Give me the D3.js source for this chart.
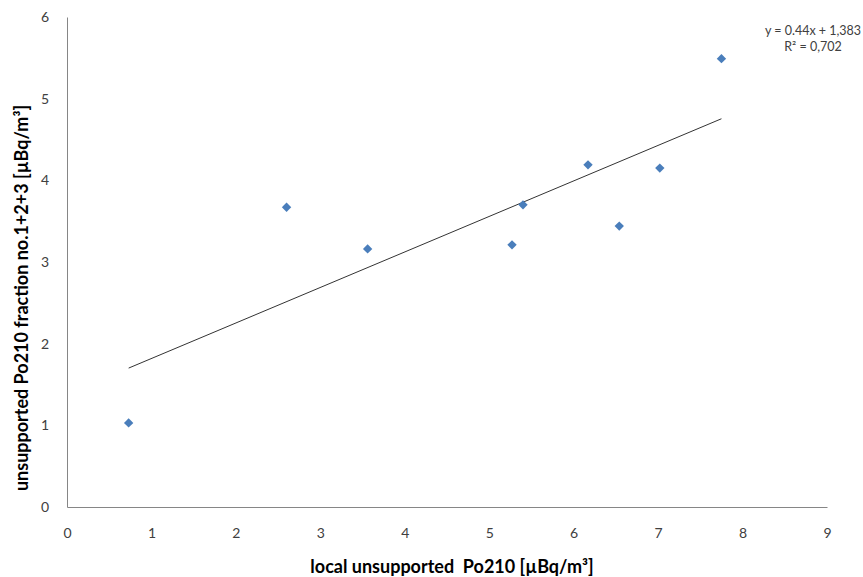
<!DOCTYPE html>
<html>
<head>
<meta charset="utf-8">
<script src="https://cdn.jsdelivr.net/npm/d3@7"></script>
<style>
  body { margin: 0; background: #fff; }
  svg text { font-family: Lato, "Open Sans", sans-serif; fill: #404040; }
</style>
</head>
<body>
<div id="chart"></div>
<script>
// values
var xValues = [0.73, 2.6, 3.56, 5.27, 5.4, 6.17, 6.54, 7.02, 7.75];
var yValues = [1.03, 3.67, 3.16, 3.21, 3.7, 4.19, 3.44, 4.15, 5.49];
var xTicks = [0, 1, 2, 3, 4, 5, 6, 7, 8, 9];
var yTicks = [0, 1, 2, 3, 4, 5, 6];
var equationLines = ['y = 0.44x + 1,383', 'R² = 0,702'];

var width = 863, height = 577;
var margin = { top: 17, right: 36, bottom: 70, left: 67 };

var svg = d3.select('#chart').append('svg')
  .attr('width', width)
  .attr('height', height);

var x = d3.scaleLinear().domain([0, 9]).range([margin.left, width - margin.right]);
var y = d3.scaleLinear().domain([0, 6]).range([height - margin.bottom, margin.top]);

// axes, no tick marks, gray baseline
svg.append('g')
  .attr('transform', `translate(0,${y(0)})`)
  .call(d3.axisBottom(x).tickValues(xTicks).tickSize(0).tickPadding(21).tickFormat(d3.format('d')))
  .call((g) => g.select('.domain').attr('stroke', '#868686'))
  .call((g) => g.selectAll('text').attr('font-size', 14).attr('font-family', null));

svg.append('g')
  .attr('transform', `translate(${x(0)},0)`)
  .call(d3.axisLeft(y).tickValues(yTicks).tickSize(0).tickPadding(18).tickFormat(d3.format('d')))
  .call((g) => g.select('.domain').attr('stroke', '#868686'))
  .call((g) => g.selectAll('text').attr('font-size', 14).attr('font-family', null));

// least squares trendline over the data range
var mx = d3.mean(xValues), my = d3.mean(yValues);
var sxy = d3.sum(xValues, (d, i) => (d - mx) * (yValues[i] - my));
var sxx = d3.sum(xValues, (d) => (d - mx) * (d - mx));
var slope = sxy / sxx, intercept = my - slope * mx;
var xr = d3.extent(xValues);
svg.append('line')
  .attr('x1', x(xr[0]))
  .attr('y1', y(slope * xr[0] + intercept))
  .attr('x2', x(xr[1]))
  .attr('y2', y(slope * xr[1] + intercept))
  .attr('stroke', '#333')
  .attr('stroke-width', 1);

// diamond markers
svg.append('g')
  .selectAll('path')
  .data(xValues.map((d, i) => [d, yValues[i]]))
  .join('path')
  .attr('d', d3.symbol(d3.symbolSquare, 44))
  .attr('transform', (d) => `translate(${x(d[0])},${y(d[1])}) rotate(45)`)
  .attr('fill', '#4a7ebb');

// trendline equation
svg.append('text')
  .attr('y', 35)
  .attr('text-anchor', 'middle')
  .attr('font-size', 12.5)
  .selectAll('tspan')
  .data(equationLines)
  .join('tspan')
  .attr('x', 813)
  .attr('dy', (d, i) => (i ? 16 : 0))
  .text((d) => d);

// axis titles
svg.append('text')
  .attr('x', 452)
  .attr('y', 573)
  .attr('text-anchor', 'middle')
  .attr('font-size', 18)
  .attr('font-weight', 'bold')
  .style('white-space', 'pre')
  .style('fill', '#000')
  .text('local unsupported  Po210 [µBq/m³]');

svg.append('text')
  .attr('transform', 'translate(28,298) rotate(-90)')
  .attr('text-anchor', 'middle')
  .attr('font-size', 18)
  .attr('font-weight', 'bold')
  .style('fill', '#000')
  .text('unsupported Po210 fraction no.1+2+3 [µBq/m³]');
</script>
</body>
</html>
